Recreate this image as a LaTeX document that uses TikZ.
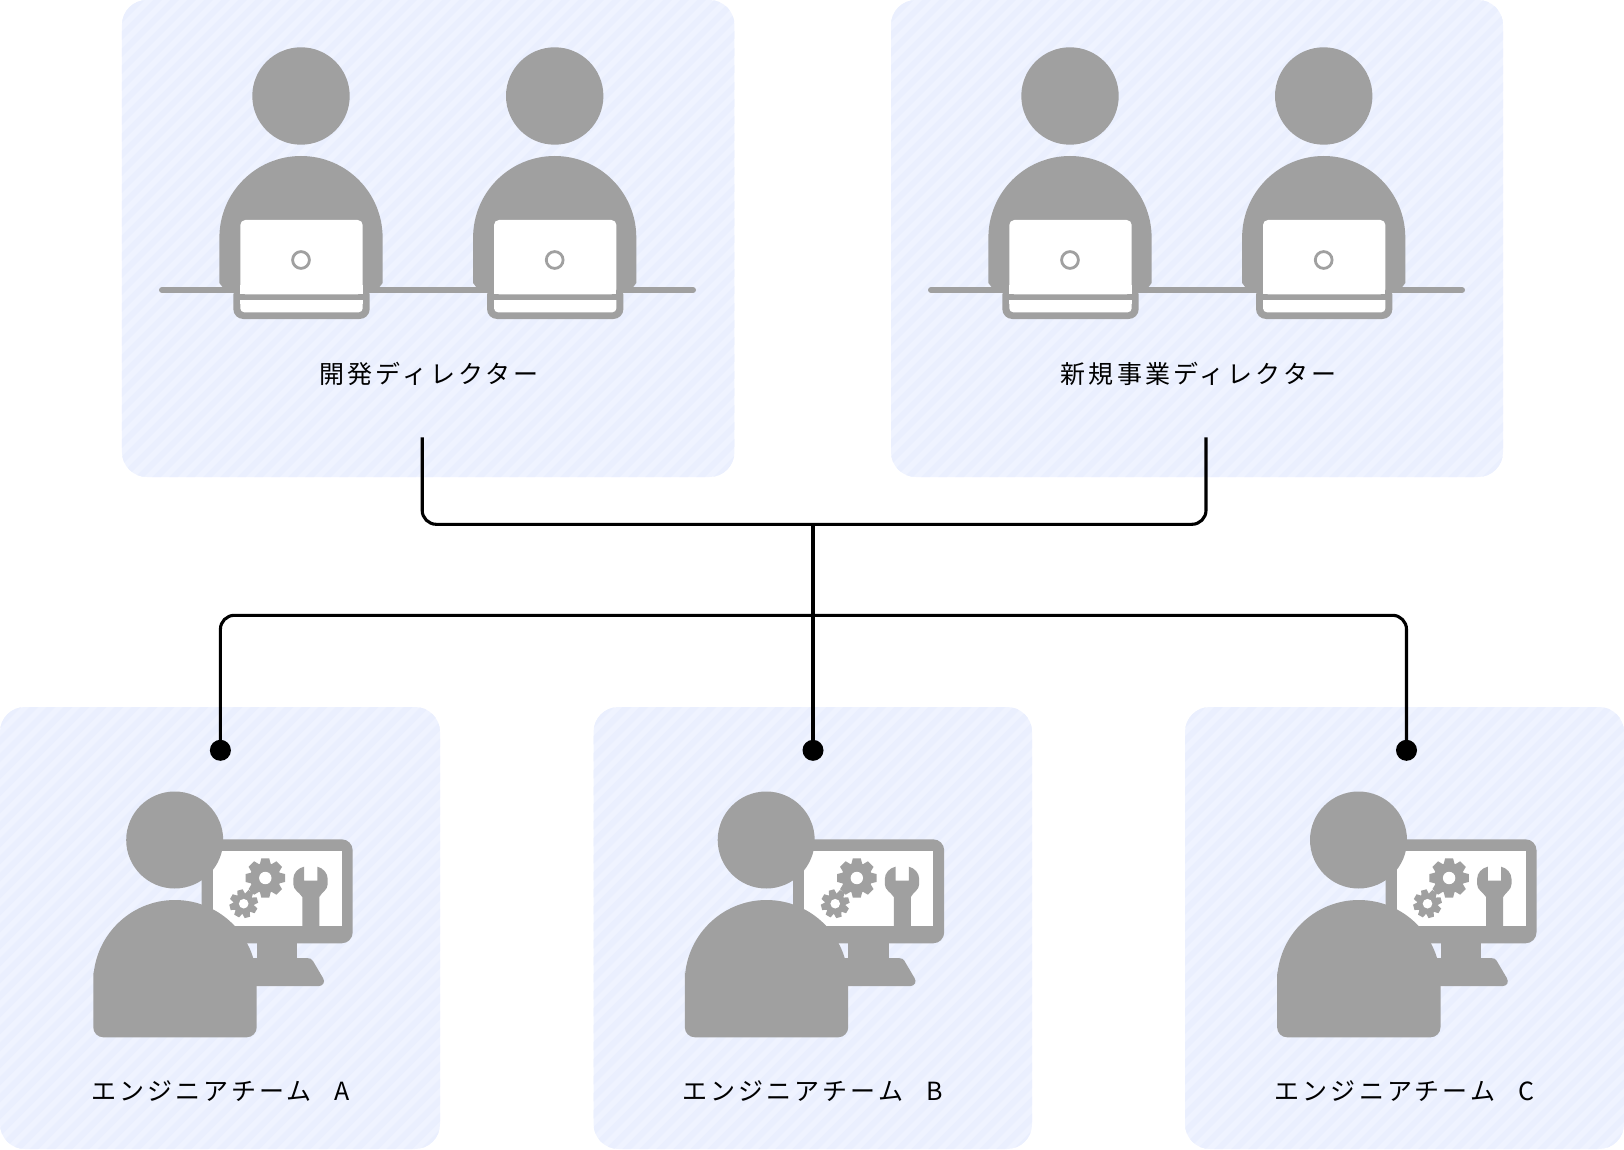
\documentclass[tikz,border=0pt]{standalone}
\usepackage{fontspec}
\newfontfamily\jpfont[LetterSpace=12.5]{Noto Sans CJK JP}
\definecolor{pfill}{HTML}{EFF3FF}
\definecolor{pstripe}{HTML}{EAEFFE}
\definecolor{gr}{HTML}{A0A0A0}
\tikzset{
  panel/.style={rectangle,rounded corners=25pt,inner sep=0pt,outer sep=0pt,fill=pfill,
    path picture={\foreach \k in {-85,...,-8}{\draw[pstripe,line width=6pt] (\k*17,800) -- ++(1600,-1600);}}},
  label/.style={anchor=base,inner sep=0pt,font=\fontsize{25pt}{29pt}\selectfont\jpfont,text=black},
  conn/.style={draw=black,line width=3.1pt,rounded corners=14pt},
  dotend/.style={circle,fill=black,inner sep=0pt,outer sep=0pt,minimum size=21pt},
  gfill/.style={fill=gr,draw=none}
}
\newcommand{\officeworker}{%
  \fill[gfill] (301,96) circle[radius=48.7];
  \fill[gfill] (219.4,237.6) arc[start angle=180,end angle=360,radius=81.6] -- (382.6,283) -- (378,289) -- (224,289) -- (219.4,283) -- cycle;
  \fill[gfill,rounded corners=10pt] (233.3,285) rectangle (369.7,319);
  \fill[white,rounded corners=5pt] (240.3,220) rectangle (362.7,294.3);
  \fill[white] (240.3,285) rectangle (362.7,294.3);
  \fill[white,rounded corners=4pt] (240.3,300) -- (240.3,312.3) -- (362.7,312.3) -- (362.7,300);
  \fill[white] (240.3,300) rectangle (362.7,304);
  \draw[gr,line width=2.8pt,fill=white] (301,260) circle[radius=8.4];
}
\newcommand{\gearshape}[6]{%
  \fill[gfill] (#1,#2) circle[radius=#4];
  \foreach \a in {0,45,...,315}{
    \fill[gfill,shift={(#1,#2)},rotate=\a+#6] (-0.36*#4,-0.9*#4) -- (-0.26*#4,-#3) -- (0.26*#4,-#3) -- (0.36*#4,-0.9*#4) -- cycle;
  }
  \fill[white] (#1,#2) circle[radius=#5];
}
\newcommand{\engineer}{%
  \fill[gfill,rounded corners=11pt] (201.7,839.3) rectangle (352.7,943.3);
  \fill[white] (212.7,851) rectangle (341.7,925.7);
  \gearshape{265.3}{878}{19.7}{15.2}{6.2}{0}
  \gearshape{243.7}{903.7}{14.2}{10.6}{4.8}{15}
  \fill[gfill] (304,866.7) -- (304,880.7) -- (317.3,880.7) -- (317.3,866.7) .. controls (323,868) and (327.7,873) .. (327.7,879) -- (327.7,884) .. controls (327.7,890) and (322,892) .. (319.3,897) -- (319.3,926) -- (302.3,926) -- (302.3,897) .. controls (299,892) and (293.3,890) .. (293.3,884) -- (293.3,879) .. controls (293.3,873) and (298,868) .. (304,866.7) -- cycle;
  \fill[gfill] (256.7,943) rectangle (297.3,960);
  \fill[gfill] (250,958) -- (307,958) .. controls (310,958) and (312,959) .. (313,961) -- (323,978) .. controls (325.5,982) and (323,986) .. (319,986) -- (250,986) -- cycle;
  \fill[gfill] (93.3,981.7) arc[start angle=180,end angle=360,radius=81.7] [rounded corners=10pt] -- (256.7,1037.3) -- (93.3,1037.3) -- (93.3,981.7) [sharp corners] -- cycle;
  \fill[gfill] (174.7,840) circle[radius=48.5];
}
\begin{document}
\begin{tikzpicture}[x=1pt,y=-1pt]
\useasboundingbox (0,0) rectangle (1624,1150);
% panels
\node[panel,minimum width=612.5pt,minimum height=477pt] (devPanel) at (428.2,238.5) {};
\node[panel,minimum width=612pt,minimum height=477pt] (bizPanel) at (1197,238.5) {};
\node[panel,minimum width=440pt,minimum height=442pt] (teamAPanel) at (220,928) {};
\node[panel,minimum width=438.5pt,minimum height=442pt] (teamBPanel) at (812.8,928) {};
\node[panel,minimum width=439pt,minimum height=442pt] (teamCPanel) at (1404.5,928) {};
% directors
\foreach \dx in {0,769}{
  \begin{scope}[shift={(\dx,0)}]
    \draw[gr,line width=6pt,line cap=round] (162,290) -- (693,290);
    \officeworker
    \begin{scope}[shift={(253.7,0)}]\officeworker\end{scope}
  \end{scope}
}
% engineers
\engineer
\begin{scope}[shift={(591.5,0)}]\engineer\end{scope}
\begin{scope}[shift={(1183.8,0)}]\engineer\end{scope}
% labels
\node[label] (devLabel) at (429,383) {開発ディレクター};
\node[label] (bizLabel) at (1198.5,383) {新規事業ディレクター};
\node[label] (teamALabel) at (220.5,1100) {エンジニアチーム\hspace{23pt}A};
\node[label] (teamBLabel) at (812.5,1100) {エンジニアチーム\hspace{23pt}B};
\node[label] (teamCLabel) at (1404.5,1100) {エンジニアチーム\hspace{23pt}C};
% connectors
\coordinate (devEnd) at (422.2,437.3);
\coordinate (bizEnd) at (1206,437.3);
\coordinate (upperJoin) at (813,524.3);
\coordinate (lowerJoin) at (813,615.3);
\node[dotend] (dotA) at (220.4,750.3) {};
\node[dotend] (dotB) at (813,750.3) {};
\node[dotend] (dotC) at (1406.5,750.3) {};
\draw[conn] (devEnd) |- (upperJoin) -| (bizEnd);
\draw[conn] (dotA.center) |- (lowerJoin) -| (dotC.center);
\draw[conn] (upperJoin) -- (dotB.center);
\end{tikzpicture}
\end{document}
